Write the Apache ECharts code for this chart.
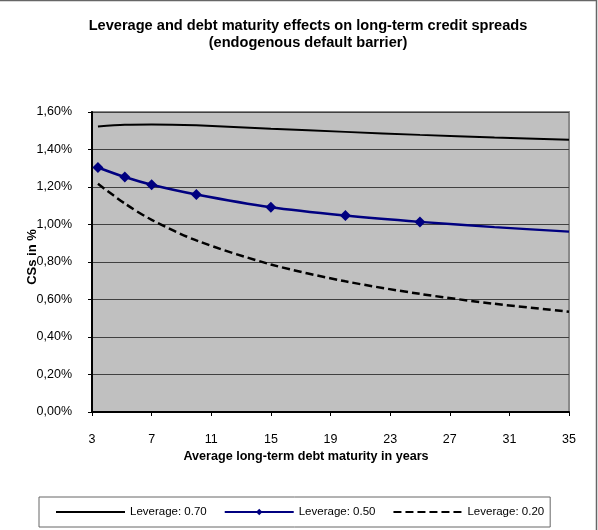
<!DOCTYPE html>
<html>
<head>
<meta charset="utf-8">
<script src="https://cdn.jsdelivr.net/npm/echarts@6/dist/echarts.min.js"></script>
<style>
  html, body { margin: 0; padding: 0; background: #fff; }
  #chart { width: 598px; height: 530px; }
</style>
</head>
<body>
<div id="chart"></div>
<script>
// Average long-term debt maturity (years) at which spreads were computed
const maturity = [3.4, 5.2, 7, 10, 15, 20, 25, 30, 35];
// Long-term credit spreads in percent, one list per leverage level
const lev70 = [1.523, 1.532, 1.534, 1.529, 1.511, 1.494, 1.478, 1.464, 1.452];
const lev50 = [1.304, 1.253, 1.212, 1.160, 1.092, 1.048, 1.014, 0.986, 0.962];
const lev20 = [1.217, 1.112, 1.025, 0.915, 0.787, 0.697, 0.630, 0.577, 0.535];
// Which points of the 0.50 series carry a diamond marker
const lev50Marked = [true, true, true, true, true, true, true, false, false];
// Tick labels
const xTicks = [3, 7, 11, 15, 19, 23, 27, 31, 35];
const yTicks = [0, 0.2, 0.4, 0.6, 0.8, 1.0, 1.2, 1.4, 1.6];
const seriesNames = ['Leverage: 0.70', 'Leverage: 0.50', 'Leverage: 0.20'];

const FONT = '"Liberation Sans", Arial, sans-serif';
const pairs = ys => maturity.map((x, i) => [x, ys[i]]);

const chart = echarts.init(document.getElementById('chart'), null, { renderer: 'canvas' });

chart.setOption({
  animation: false,
  backgroundColor: '#ffffff',
  textStyle: { fontFamily: FONT, color: '#000' },
  title: {
    text: 'Leverage and debt maturity effects on long-term credit spreads\n(endogenous default barrier)',
    left: 308,
    top: 18,
    padding: 0,
    textAlign: 'center',
    textStyle: { fontFamily: FONT, fontSize: 14.6, fontWeight: 'bold', color: '#000', lineHeight: 16.5 }
  },
  grid: {
    left: 92, right: 29, top: 112, bottom: 118,
    show: true,
    backgroundColor: '#c0c0c0',
    borderColor: '#8a8a8a',
    borderWidth: 2
  },
  xAxis: {
    type: 'value',
    min: 3, max: 35,
    splitLine: { show: false },
    axisLine: { lineStyle: { color: '#000', width: 2 } },
    axisTick: { customValues: xTicks, length: 4, lineStyle: { color: '#000', width: 1 } },
    axisLabel: { customValues: xTicks, margin: 21, fontSize: 12.5, color: '#000', fontFamily: FONT }
  },
  yAxis: {
    type: 'value',
    min: yTicks[0], max: yTicks[yTicks.length - 1], interval: 0.2,
    splitLine: { lineStyle: { color: '#404040', width: 1 } },
    axisLine: { show: true, lineStyle: { color: '#000', width: 2 } },
    axisTick: { show: true, length: 4, lineStyle: { color: '#000', width: 1 } },
    axisLabel: {
      margin: 20, fontSize: 12.5, color: '#000', fontFamily: FONT,
      formatter: v => v.toFixed(2).replace('.', ',') + '%'
    }
  },
  legend: {
    data: [
      { name: seriesNames[0], itemStyle: { opacity: 0 } },
      { name: seriesNames[1] },
      { name: seriesNames[2], itemStyle: { opacity: 0 } }
    ],
    left: 39, top: 497,
    padding: [9, 6, 9, 16],
    itemGap: 17,
    itemWidth: 69,
    itemHeight: 8,
    borderColor: '#666',
    borderWidth: 1,
    textStyle: { fontFamily: FONT, fontSize: 11.5, color: '#000' }
  },
  series: [
    {
      name: seriesNames[0],
      type: 'line',
      data: pairs(lev70),
      smooth: 0.3,
      symbol: 'none',
      lineStyle: { color: '#000', width: 2 },
      itemStyle: { color: '#000' }
    },
    {
      name: seriesNames[1],
      type: 'line',
      data: maturity.map((x, i) => ({
        value: [x, lev50[i]],
        symbol: lev50Marked[i] ? 'diamond' : 'none'
      })),
      smooth: 0.3,
      symbol: 'diamond',
      symbolSize: 11,
      lineStyle: { color: '#000080', width: 2.5 },
      itemStyle: { color: '#000080' }
    },
    {
      name: seriesNames[2],
      type: 'line',
      data: pairs(lev20),
      smooth: 0.3,
      symbol: 'none',
      lineStyle: { color: '#000', width: 2.5, type: [8, 4] },
      itemStyle: { color: '#000' }
    }
  ],
  graphic: [
    {
      type: 'polyline',
      shape: { points: [[0, 0.5], [596.5, 0.5], [596.5, 530]] },
      style: { stroke: '#666', lineWidth: 1.5, fill: null },
      silent: true
    },
    {
      type: 'text',
      x: 306, y: 457,
      style: {
        text: 'Average long-term debt maturity in years',
        font: 'bold 12.6px ' + FONT, fill: '#000',
        align: 'center', verticalAlign: 'middle'
      }
    },
    {
      type: 'text',
      x: 32, y: 257,
      rotation: Math.PI / 2,
      style: {
        text: 'CSs in %',
        font: 'bold 13px ' + FONT, fill: '#000',
        align: 'center', verticalAlign: 'middle'
      }
    }
  ]
});
</script>
</body>
</html>
